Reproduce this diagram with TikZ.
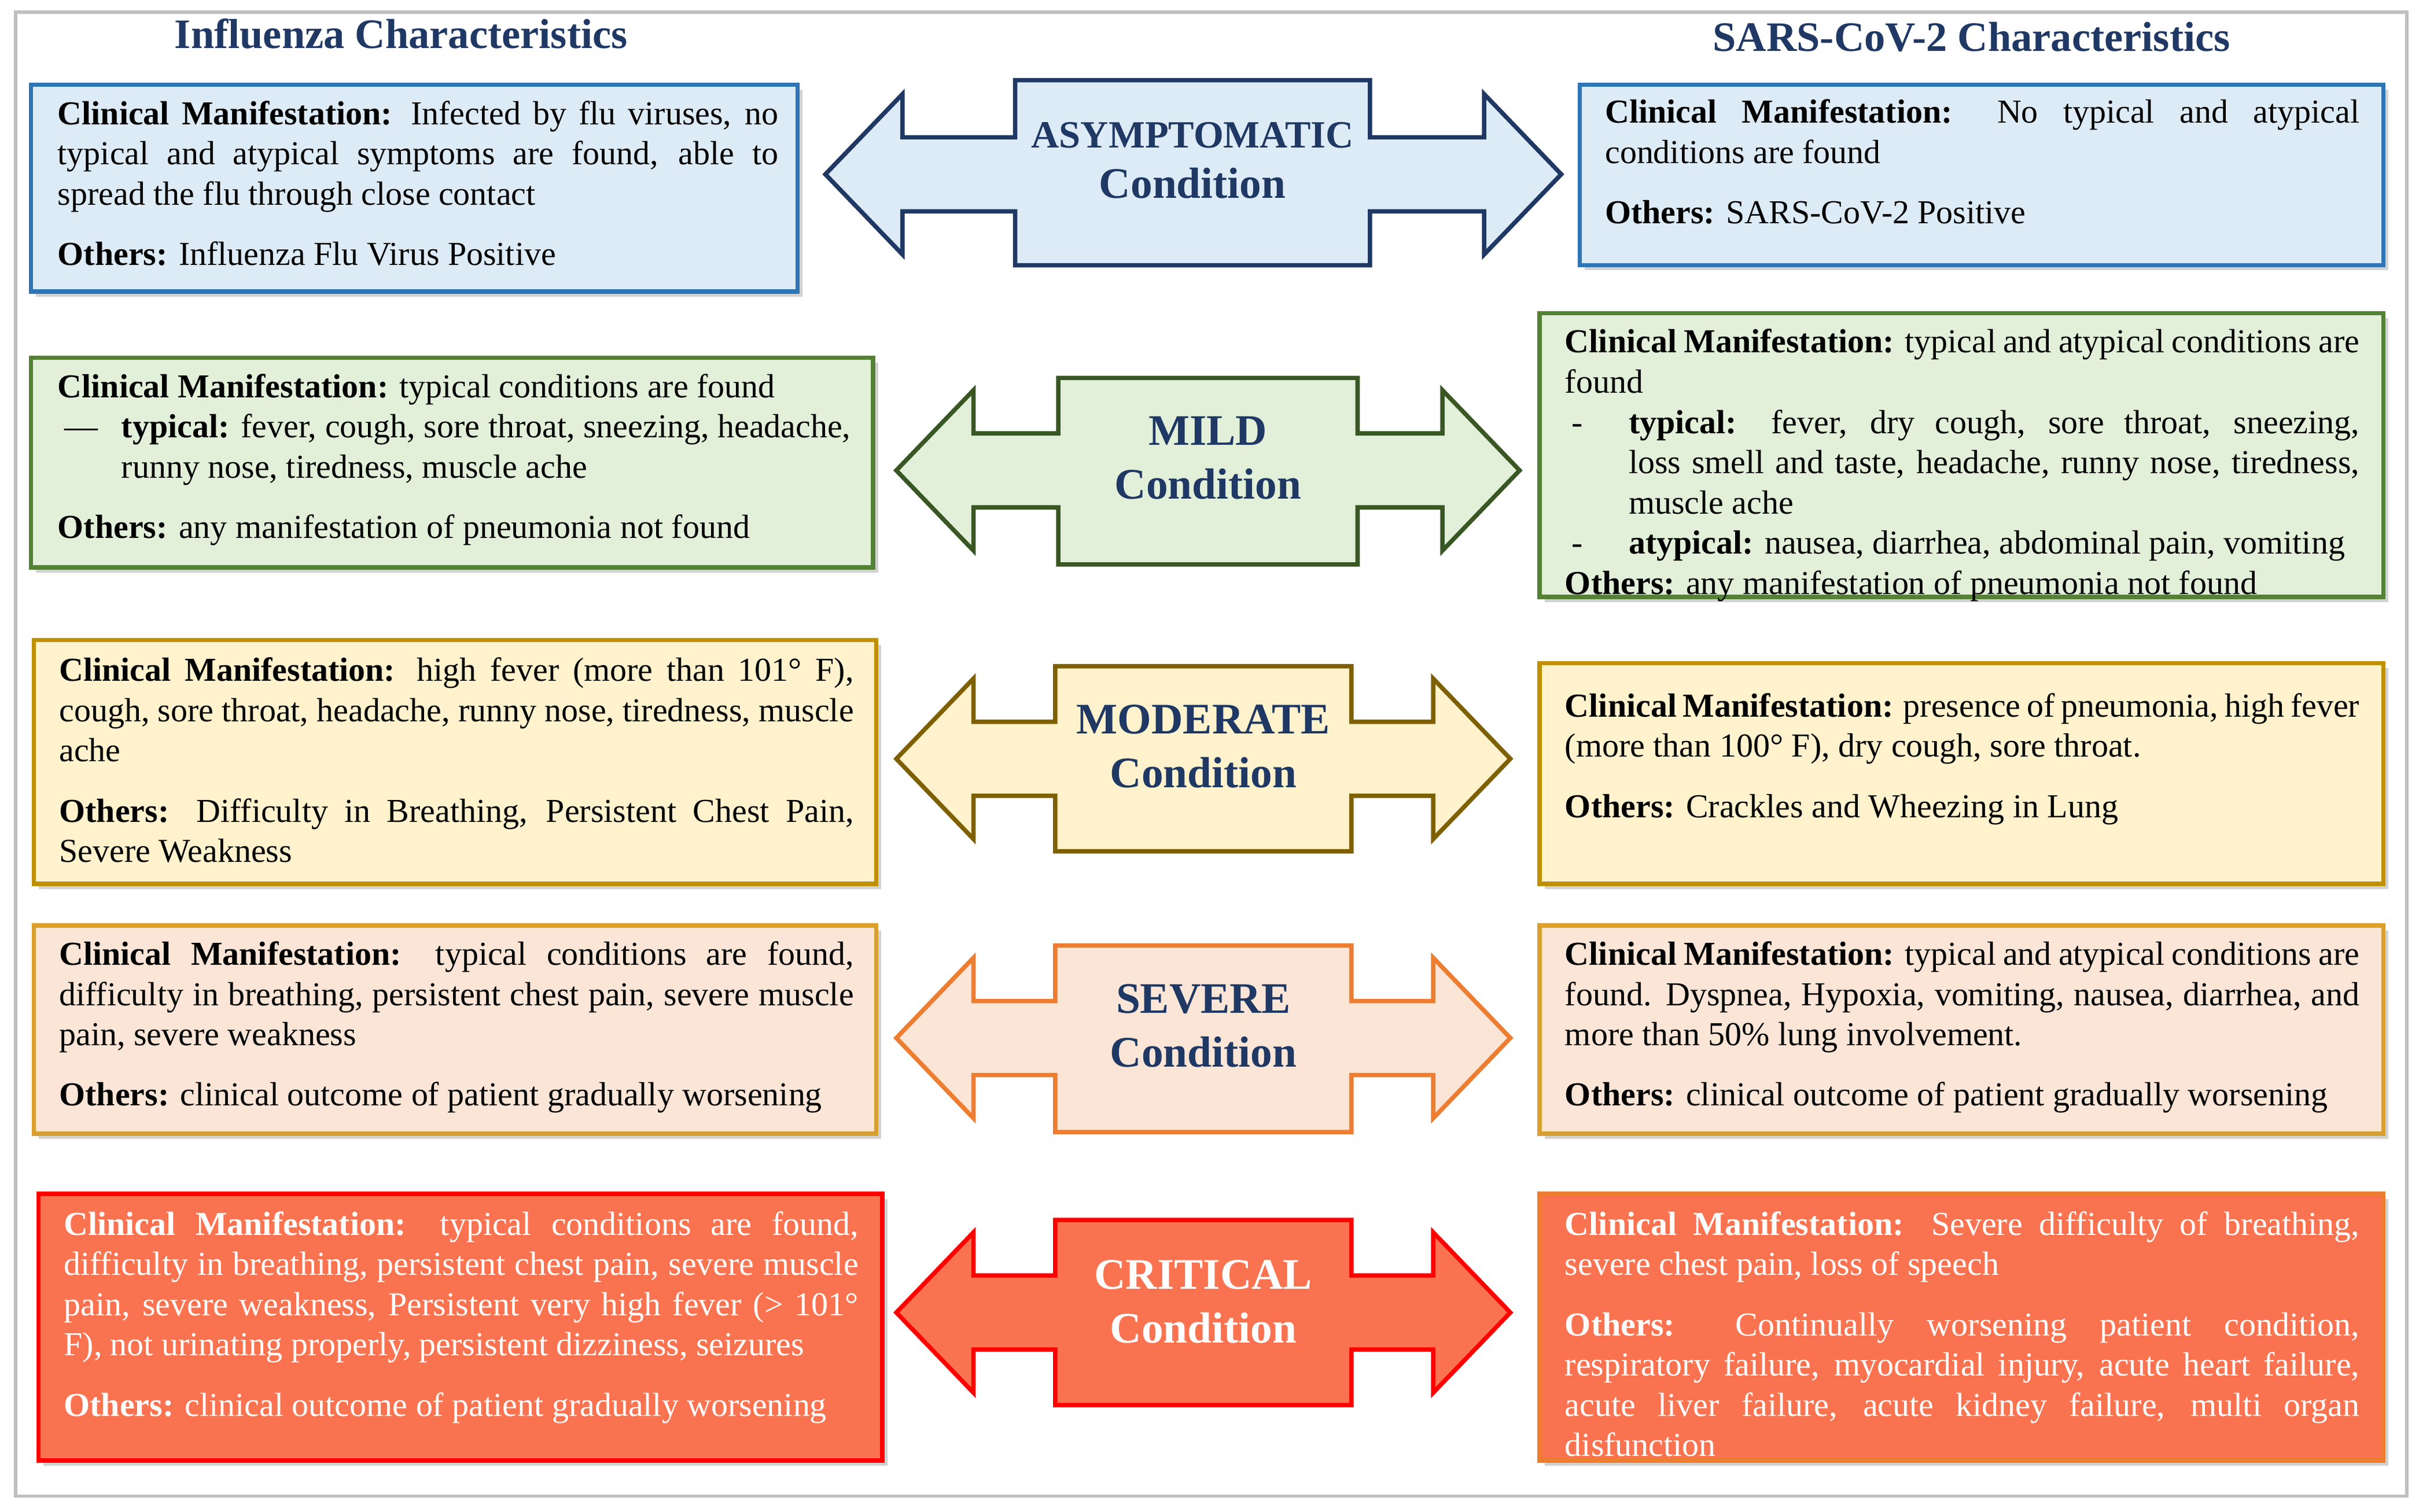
\documentclass[tikz,border=0pt]{standalone}
\usepackage{fontspec}
\setmainfont{Liberation Serif}
\usetikzlibrary{fit,shadows}
\definecolor{navy}{HTML}{1F3864}
\definecolor{bF}{HTML}{DDEBF7}\definecolor{bD}{HTML}{2E75B6}
\definecolor{gF}{HTML}{E2F0D9}\definecolor{gD}{HTML}{548235}\definecolor{gA}{HTML}{385723}
\definecolor{yF}{HTML}{FFF2CC}\definecolor{yD}{HTML}{BF9000}\definecolor{yA}{HTML}{7F6000}
\definecolor{oF}{HTML}{FBE5D6}\definecolor{oD}{HTML}{D9A030}\definecolor{oA}{HTML}{ED7D31}
\definecolor{rF}{HTML}{FA7350}\definecolor{rD}{HTML}{FF0000}
\newcommand\txfont{\fontsize{10}{12}\selectfont\hyphenpenalty=10000 \tolerance=9999 \emergencystretch=20pt\relax}
\tikzset{
 bx/.style={draw=#1,line width=1.3pt,inner sep=0pt,drop shadow={shadow xshift=1.5pt,shadow yshift=-1.5pt,fill=black!35}},
 tx/.style={anchor=north west,inner sep=0pt,align=justify,font=\txfont},
 lab/.style={font=\fontsize{13}{16}\selectfont\bfseries,text=navy,align=center},
 hd/.style={font=\fontsize{12.5}{15}\selectfont\bfseries,text=navy}
}
\newcommand\darr[9]{%
 \path[arrsty] (#1,#7) -- (#2,#7-52) -- (#2,#7-24) -- (#3,#7-24) -- (#3,#8) -- (#4,#8) -- (#4,#7-24) -- (#5,#7-24) -- (#5,#7-52) -- (#6,#7) -- (#5,#7+52) -- (#5,#7+24) -- (#4,#7+24) -- (#4,#9) -- (#3,#9) -- (#3,#7+24) -- (#2,#7+24) -- (#2,#7+52) -- cycle;}
\newcommand\hang[2]{\par\hangindent=19pt\hangafter=1\noindent\makebox[19pt][l]{\hspace{2pt}#1}#2}
\begin{document}
\begin{tikzpicture}[x=0.46pt,y=-0.46pt]
\useasboundingbox (0,0) rectangle (1568,980);
\draw[black!25,line width=1pt] (10,8) rectangle (1560,970);
\node[hd] (h1) at (260,22) {Influenza Characteristics};
\node[hd] (h2) at (1278,24) {SARS-CoV-2 Characteristics};
\node (L1)[bx=bD,fill=bF,fit={(20,55)(517,189)}]{};
\node (R1)[bx=bD,fill=bF,fit={(1024,55)(1545,172)}]{};
\node (L2)[bx=gD,fill=gF,fit={(20,232)(566,368)}]{};
\node (R2)[bx=gD,fill=gF,fit={(998,203)(1545,387)}]{};
\node (L3)[bx=yD,fill=yF,fit={(22,415)(568,573)}]{};
\node (R3)[bx=yD,fill=yF,fit={(998,430)(1545,573)}]{};
\node (L4)[bx=oD,fill=oF,fit={(22,600)(568,735)}]{};
\node (R4)[bx=oD,fill=oF,fit={(998,600)(1545,735)}]{};
\node (L5)[bx=rD,fill=rF,fit={(25,774)(572,947)}]{};
\node (R5)[bx=oA,fill=rF,fit={(998,774)(1545,947)}]{};
\tikzset{arrsty/.style={fill=bF,draw=navy,line width=1.3pt}}
\darr{535}{585}{658}{888}{962}{1012}{113}{52}{172}
\tikzset{arrsty/.style={fill=gF,draw=gA,line width=1.3pt}}
\darr{581}{631}{686}{880}{935}{985}{305}{245}{366}
\tikzset{arrsty/.style={fill=yF,draw=yA,line width=1.3pt}}
\darr{581}{631}{684}{876}{929}{979}{492}{432}{552}
\tikzset{arrsty/.style={fill=oF,draw=oA,line width=1.3pt}}
\darr{581}{631}{684}{876}{929}{979}{673}{613}{734}
\tikzset{arrsty/.style={fill=rF,draw=rD,line width=1.3pt}}
\darr{581}{631}{684}{876}{929}{979}{851}{791}{911}
\node[lab,font=\fontsize{11.5}{15}\selectfont\bfseries] (a1) at (773,104) {ASYMPTOMATIC\\\fontsize{13}{15}\selectfont Condition};
\node[lab] (a2) at (783,297) {MILD\\Condition};
\node[lab] (a3) at (780,484) {MODERATE\\Condition};
\node[lab] (a4) at (780,665) {SEVERE\\Condition};
\node[lab,text=white] (a5) at (780,844) {CRITICAL\\Condition};
\node[tx,text width=467*0.46pt] (t1) at (37,65) {\textbf{Clinical Manifestation:} Infected by flu viruses, no typical and atypical symptoms are found, able to spread the flu through close contact\par\vspace{6pt}\noindent\textbf{Others:} Influenza Flu Virus Positive};
\node[tx,text width=489*0.46pt] (t2) at (1040,64) {\textbf{Clinical Manifestation:} No typical and atypical conditions are found\par\vspace{6pt}\noindent\textbf{Others:} SARS-CoV-2 Positive};
\node[tx,text width=514*0.46pt] (t3) at (37,242) {\textbf{Clinical Manifestation:} typical conditions are found\hang{—}{\textbf{typical:} fever, cough, sore throat, sneezing, headache, runny nose, tiredness, muscle ache}\par\vspace{6pt}\noindent\textbf{Others:} any manifestation of pneumonia not found};
\node[tx,text width=515*0.46pt] (t4) at (1014,213) {\textbf{Clinical Manifestation:} typical and atypical conditions are found\hang{-}{\textbf{typical:} fever, dry cough, sore throat, sneezing, loss smell and taste, headache, runny nose, tiredness, muscle ache}\hang{-}{\textbf{atypical:} nausea, diarrhea, abdominal pain, vomiting}\par\noindent\textbf{Others:} any manifestation of pneumonia not found};
\node[tx,text width=515*0.46pt] (t5) at (38,426) {\textbf{Clinical Manifestation:} high fever (more than 101° F), cough, sore throat, headache, runny nose, tiredness, muscle ache\par\vspace{6pt}\noindent\textbf{Others:} Difficulty in Breathing, Persistent Chest Pain, Severe Weakness};
\node[tx,text width=515*0.46pt] (t6) at (1014,449) {\textbf{Clinical Manifestation:} presence of pneumonia, high fever (more than 100° F), dry cough, sore throat.\par\vspace{6pt}\noindent\textbf{Others:} Crackles and Wheezing in Lung};
\node[tx,text width=515*0.46pt] (t7) at (38,610) {\textbf{Clinical Manifestation:} typical conditions are found, difficulty in breathing, persistent chest pain, severe muscle pain, severe weakness\par\vspace{6pt}\noindent\textbf{Others:} clinical outcome of patient gradually worsening};
\node[tx,text width=515*0.46pt] (t8) at (1014,610) {\textbf{Clinical Manifestation:} typical and atypical conditions are found. Dyspnea, Hypoxia, vomiting, nausea, diarrhea, and more than 50\% lung involvement.\par\vspace{6pt}\noindent\textbf{Others:} clinical outcome of patient gradually worsening};
\node[tx,text=white,text width=515*0.46pt] (t9) at (41,785) {\textbf{Clinical Manifestation:} typical conditions are found, difficulty in breathing, persistent chest pain, severe muscle pain, severe weakness, Persistent very high fever (> 101° F), not urinating properly, persistent dizziness, seizures\par\vspace{6pt}\noindent\textbf{Others:} clinical outcome of patient gradually worsening};
\node[tx,text=white,text width=515*0.46pt] (t10) at (1014,785) {\textbf{Clinical Manifestation:} Severe difficulty of breathing, severe chest pain, loss of speech\par\vspace{6pt}\noindent\textbf{Others:} Continually worsening patient condition, respiratory failure, myocardial injury, acute heart failure, acute liver failure, acute kidney failure, multi organ disfunction};
\end{tikzpicture}
\end{document}
